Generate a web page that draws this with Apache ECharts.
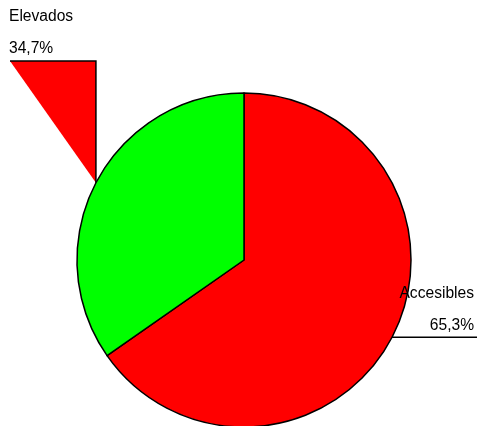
<!DOCTYPE html>
<html>
<head>
<meta charset="utf-8">
<style>
  html, body { margin: 0; padding: 0; background: #ffffff; }
  #chart { width: 477px; height: 426px; }
</style>
<script src="https://cdn.jsdelivr.net/npm/echarts@6/dist/echarts.min.js"></script>
</head>
<body>
<div id="chart"></div>
<script>
// Share of stops by access type (percent)
const categories = ['Accesibles', 'Elevados'];
const values = [65.3, 34.7];
const colors = ['#ff0000', '#00ff00'];

const FONT = '"Liberation Sans", Arial, sans-serif';

const chart = echarts.init(document.getElementById('chart'), null, { renderer: 'canvas' });

function pct(p) {
  return p.percent.toFixed(1).replace('.', ',') + '%';
}

chart.setOption({
  animation: false,
  backgroundColor: '#ffffff',
  series: [{
    type: 'pie',
    center: [244, 260],
    radius: 167,
    startAngle: 90,
    clockwise: true,
    avoidLabelOverlap: false,
    itemStyle: { borderColor: '#000000', borderWidth: 1.5 },
    emphasis: { disabled: true },
    label: {
      show: true,
      position: 'outside',
      formatter: function (p) { return '{n|' + p.name + '}\n{v|' + pct(p) + '}'; },
      rich: {
        n: { fontFamily: FONT, fontSize: 15.6, color: '#000', lineHeight: 32 },
        v: { fontFamily: FONT, fontSize: 15.6, color: '#000', lineHeight: 32 }
      }
    },
    labelLine: {
      show: true,
      lineStyle: { color: '#000000', width: 1.5 }
    },
    labelLayout: function (params) {
      const p0 = params.labelLinePoints ? params.labelLinePoints[0] : [0, 0];
      if (params.dataIndex === 1) {
        // Elevados: label parked in the top-left corner, guide runs up then left
        const lineY = 61;
        return {
          x: 9, y: lineY - 60, align: 'left', verticalAlign: 'top',
          labelLinePoints: [p0, [p0[0], lineY], [10, lineY]]
        };
      }
      // Accesibles: label right-aligned, guide runs straight to the right edge
      const lineY = p0[1];
      return {
        x: 474, y: lineY - 60, align: 'right', verticalAlign: 'top',
        labelLinePoints: [p0, [p0[0] + 1, lineY], [477, lineY]]
      };
    },
    data: categories.map((c, i) => ({ name: c, value: values[i], itemStyle: { color: colors[i] } }))
  }]
});

// Guide lines are drawn as filled shapes in this style of chart
const zr = chart.getZr();
zr.storage.getDisplayList(true).forEach(function (el) {
  if (el.type === 'polyline') {
    el.setStyle('fill', '#ff0000');
  }
});
zr.refreshImmediately();
</script>
</body>
</html>
